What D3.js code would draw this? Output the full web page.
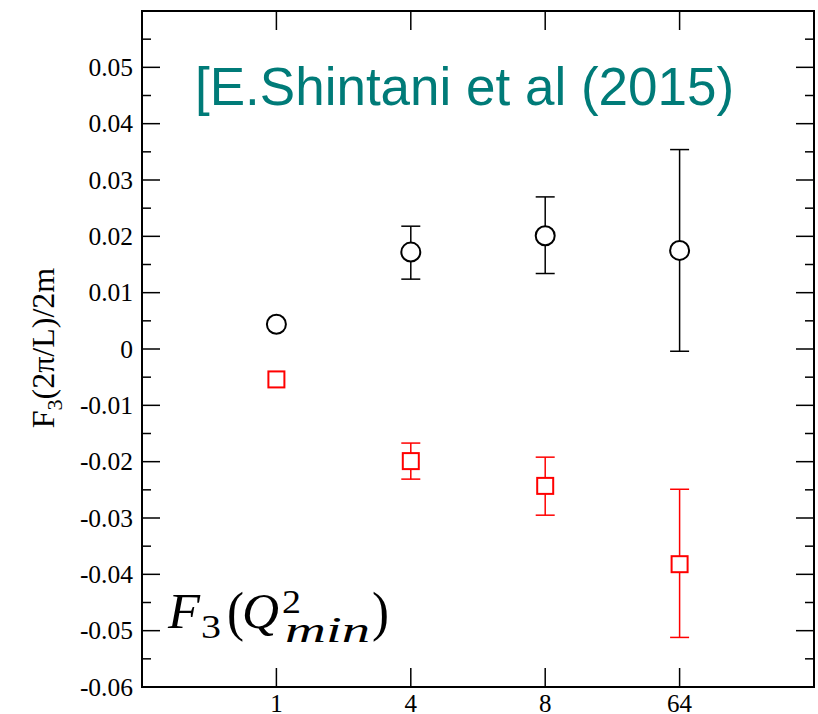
<!DOCTYPE html>
<html>
<head>
<meta charset="utf-8">
<script src="https://cdn.jsdelivr.net/npm/d3@7"></script>
<style>
  body { margin: 0; background: #fff; }
  svg { display: block; }
  .serif { font-family: 'Liberation Serif', 'Times New Roman', Times, serif; }
  .sans { font-family: 'Liberation Sans', Arial, Helvetica, sans-serif; }
</style>
</head>
<body>
<div id="chart"></div>
<script>
const categories = ["1", "4", "8", "64"];
const circleVals = [0.0044, 0.0172, 0.0201, 0.0175];
const circleHi   = [null, 0.0218, 0.0270, 0.0354];
const circleLo   = [null, 0.0124, 0.0134, -0.0004];
const squareVals = [-0.0054, -0.0199, -0.0243, -0.0382];
const squareHi   = [null, -0.0167, -0.0192, -0.0249];
const squareLo   = [null, -0.0231, -0.0295, -0.0512];
const yTicks = [-0.06, -0.05, -0.04, -0.03, -0.02, -0.01, 0, 0.01, 0.02, 0.03, 0.04, 0.05];

const width = 818, height = 714;
const mLeft = 142, mRight = 814, mTop = 11, mBottom = 687;

const svg = d3.select("#chart").append("svg")
  .attr("width", width).attr("height", height);

const x = d3.scaleLinear().domain([0, 5]).range([mLeft, mRight]);
const y = d3.scaleLinear().domain([-0.06, 0.06]).range([mBottom, mTop]);

// frame
svg.append("rect")
  .attr("x", mLeft).attr("y", mTop)
  .attr("width", mRight - mLeft).attr("height", mBottom - mTop)
  .attr("fill", "none").attr("stroke", "#000").attr("stroke-width", 2);

// y ticks (left and right), major + minor
const minor = d3.range(-0.055, 0.06, 0.01);
const tickG = svg.append("g").attr("stroke", "#000").attr("stroke-width", 1.5);
yTicks.concat([0.06]).forEach(v => {
  tickG.append("line").attr("x1", mLeft).attr("x2", mLeft + 18).attr("y1", y(v)).attr("y2", y(v));
  tickG.append("line").attr("x1", mRight).attr("x2", mRight - 18).attr("y1", y(v)).attr("y2", y(v));
});
minor.forEach(v => {
  tickG.append("line").attr("x1", mLeft).attr("x2", mLeft + 9).attr("y1", y(v)).attr("y2", y(v));
  tickG.append("line").attr("x1", mRight).attr("x2", mRight - 9).attr("y1", y(v)).attr("y2", y(v));
});
categories.forEach((c, i) => {
  tickG.append("line").attr("x1", x(i + 1)).attr("x2", x(i + 1)).attr("y1", mBottom).attr("y2", mBottom - 19);
  tickG.append("line").attr("x1", x(i + 1)).attr("x2", x(i + 1)).attr("y1", mTop).attr("y2", mTop + 19);
});

// tick labels
svg.append("g").selectAll("text").data(yTicks).enter().append("text")
  .attr("class", "serif")
  .attr("x", mLeft - 9).attr("y", d => y(d))
  .attr("dy", "0.34em")
  .attr("text-anchor", "end")
  .attr("font-size", 25.5)
  .text(d => d === 0 ? "0" : d3.format(".2f")(d).replace("−", "-"));

svg.append("g").selectAll("text").data(categories).enter().append("text")
  .attr("class", "serif")
  .attr("x", (d, i) => x(i + 1)).attr("y", 712)
  .attr("text-anchor", "middle")
  .attr("font-size", 25)
  .text(d => d);

// y label
const yl = svg.append("text")
  .attr("class", "serif")
  .attr("transform", "translate(54,348) rotate(-90)")
  .attr("text-anchor", "middle")
  .attr("font-size", 32);
yl.append("tspan").text("F");
yl.append("tspan").attr("font-size", 22).attr("dy", 8).text("3");
yl.append("tspan").attr("dy", -8).text("(2π/L)/2m");

// error bars + markers
function drawSeries(vals, hi, lo, color, shape) {
  const g = svg.append("g").attr("stroke", color).attr("stroke-width", 1.5).attr("fill", "none");
  vals.forEach((v, i) => {
    const cx = x(i + 1);
    if (hi[i] != null) {
      g.append("line").attr("x1", cx).attr("x2", cx).attr("y1", y(hi[i])).attr("y2", y(lo[i]));
      g.append("line").attr("x1", cx - 9.5).attr("x2", cx + 9.5).attr("y1", y(hi[i])).attr("y2", y(hi[i]));
      g.append("line").attr("x1", cx - 9.5).attr("x2", cx + 9.5).attr("y1", y(lo[i])).attr("y2", y(lo[i]));
    }
    if (shape === "circle") {
      g.append("circle").attr("cx", cx).attr("cy", y(v)).attr("r", 9.5)
        .attr("fill", "#fff").attr("stroke-width", 2);
    } else {
      g.append("rect").attr("x", cx - 8).attr("y", y(v) - 8).attr("width", 16).attr("height", 16)
        .attr("fill", "#fff").attr("stroke-width", 2);
    }
  });
}
drawSeries(circleVals, circleHi, circleLo, "#000", "circle");
drawSeries(squareVals, squareHi, squareLo, "#ff0000", "square");

// annotation
svg.append("text")
  .attr("class", "sans")
  .attr("x", 195).attr("y", 105)
  .attr("font-size", 53)
  .attr("fill", "#007b78")
  .text("[E.Shintani et al (2015)");

// F_3(Q^2_min) in math style, pieces laid out by hand
const mathParts = [
  { t: "F",   x: 168, y: 628, s: 51, it: true,  len: 32 },
  { t: "3",   x: 201, y: 638, s: 34, it: false, len: 20 },
  { t: "(",   x: 227, y: 630, s: 54, it: false, len: 17 },
  { t: "Q",   x: 242, y: 628, s: 51, it: true,  len: 37 },
  { t: "2",   x: 282, y: 613, s: 34, it: false, len: 19 },
  { t: "min", x: 285, y: 642, s: 36, it: true,  len: 85 },
  { t: ")",   x: 372, y: 630, s: 54, it: false, len: 17 }
];
svg.append("g").selectAll("text").data(mathParts).enter().append("text")
  .attr("class", "serif")
  .attr("x", d => d.x).attr("y", d => d.y)
  .attr("font-size", d => d.s)
  .attr("font-style", d => d.it ? "italic" : "normal")
  .attr("textLength", d => d.len)
  .attr("lengthAdjust", "spacingAndGlyphs")
  .text(d => d.t);
</script>
</body>
</html>
